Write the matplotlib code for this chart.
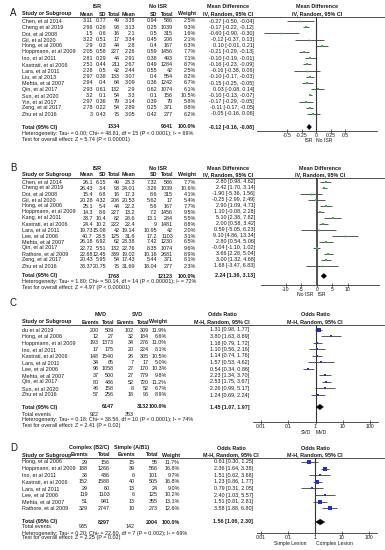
import numpy as np
import matplotlib.pyplot as plt
from matplotlib.lines import Line2D
from matplotlib.patches import Polygon

plt.rcParams['font.family'] = ['Liberation Sans', 'DejaVu Sans']

W, H = 385, 550
FS = 3.9
TXT = '#1a1a1a'
GREEN = '#33b43c'
BLUE = '#2233c8'

# ---- A: ISR vs no ISR, mean difference
a_study = ['Chen, et al 2014', 'Cheng et al 2019', 'Doi, et al 2008', 'Gil, et al 2020',
           'Hong, et al 2006', 'Hoppmann, et al 2009', 'Ino, et al 2011', 'Kastrati, et al 2006',
           'Lara, et al 2011', 'Liu, et al 2013', 'Mehta, et al 2007', 'Qin, et al 2017',
           'Sun, et al 2020', 'Yin, et al 2017', 'Zeng, et al 2017', 'Zhu et al 2016']
a_isr_mean = [3.11, 2.96, 1.5, 3.22, 2.9, 2.05, 2.81, 2.51, 2.28, 2.97, 2.94, 2.93, 3.2, 2.97, 2.78, 3]
a_isr_sd = [0.77, 0.26, 0.6, 0.51, 0.3, 0.58, 0.29, 0.44, 0.5, 0.38, 0.4, 0.61, 0.1, 0.36, 0.22, 0.43]
a_isr_n = [49, 93, 16, 17, 44, 227, 44, 211, 42, 133, 64, 132, 54, 79, 54, 75]
a_no_mean = [3.38, 3.13, 2.1, 3.34, 2.8, 2.26, 2.91, 2.67, 2.44, 3.07, 3.09, 2.9, 3.3, 3.14, 2.89, 3.05]
a_no_sd = [0.94, 0.25, 0.5, 0.45, 0.4, 0.59, 0.38, 0.49, 0.55, 0.4, 0.36, 0.62, 0.1, 0.39, 0.25, 0.42]
a_no_n = [586, 1039, 315, 206, 167, 1456, 493, 1284, 42, 554, 1242, 1074, 156, 79, 371, 277]
a_weight = [2.5, 9.3, 1.6, 2.1, 6.3, 7.7, 7.1, 8.7, 2.5, 8.2, 6.7, 6.1, 10.5, 5.8, 8.8, 6.2]
a_md = [-0.27, -0.17, -0.60, -0.12, 0.10, -0.21, -0.10, -0.16, -0.16, -0.10, -0.15, 0.03, -0.10, -0.17, -0.11, -0.05]
a_lo = [-0.50, -0.22, -0.90, -0.37, -0.01, -0.29, -0.19, -0.23, -0.38, -0.17, -0.25, -0.08, -0.13, -0.29, -0.17, -0.16]
a_hi = [-0.04, -0.12, -0.30, 0.13, 0.21, -0.13, -0.01, -0.09, 0.06, -0.03, -0.05, 0.14, -0.07, -0.05, -0.05, 0.06]
a_total = [1334, 9341]
a_pooled = [-0.12, -0.16, -0.08]
a_het = 'Heterogeneity: Tau² = 0.00; Chi² = 48.81, df = 15 (P < 0.0001); I² = 69%'
a_test = 'Test for overall effect: Z = 5.74 (P < 0.00001)'

# ---- B: ISR vs no ISR, mean difference
b_study = ['Chen, et al 2014', 'Cheng et al 2019', 'Doi, et al 2008', 'Gil, et al 2020',
           'Hong, et al 2006', 'Hoppmann, et al 2009', 'Kang, et al 2011', 'Kastrati, et al 2006',
           'Lara, et al 2011', 'Lee, et al 2006', 'Mehta, et al 2007', 'Qin, et al 2017',
           'Rathore, et al 2009', 'Zeng, et al 2017', 'Zhu et al 2016']
b_isr_mean = [26.1, 26.43, 15.4, 20.28, 25.1, 14.3, 33.7, 24.4, 19.73, 40.7, 26.18, 22.72, 22.68, 20.43, 33.37]
b_isr_sd = [6.15, 3.4, 6.8, 4.32, 5.4, 8.6, 10.4, 10.2, 15.08, 23.5, 6.92, 5.51, 12.45, 5.95, 20.75]
b_isr_n = [49, 93, 16, 206, 44, 227, 82, 222, 42, 125, 62, 132, 339, 54, 75]
b_no_mean = [23.3, 24.01, 17.3, 20.53, 22.2, 13.2, 28.6, 22.4, 19.14, 31.6, 23.38, 22.76, 19.02, 17.43, 31.69]
b_no_sd = [7.32, 3.26, 8.6, 5.62, 5.6, 7.2, 13.1, 9, 10.95, 17.2, 7.42, 8.35, 10.16, 5.44, 18.04]
b_no_n = [586, 1039, 315, 17, 167, 1456, 284, 1481, 42, 1103, 1230, 1074, 2681, 371, 277]
b_weight = [7.7, 10.6, 4.1, 5.4, 7.7, 9.5, 5.5, 8.8, 2.0, 3.1, 6.5, 9.6, 8.9, 8.1, 2.3]
b_md = [2.80, 2.42, -1.90, -0.25, 2.90, 1.10, 5.10, 2.00, 0.59, 9.10, 2.80, -0.04, 3.66, 3.00, 1.68]
b_lo = [0.98, 1.70, -5.36, -2.99, 1.09, -0.08, 2.38, 0.58, -5.05, 4.86, 0.54, -1.10, 2.28, 1.32, -3.47]
b_hi = [4.62, 3.14, 1.56, 2.49, 4.71, 2.28, 7.82, 3.42, 6.23, 13.34, 5.06, 1.02, 5.04, 4.68, 6.83]
b_total = [1768, 12123]
b_pooled = [2.24, 1.36, 3.13]
b_het = 'Heterogeneity: Tau² = 1.80; Chi² = 50.14, df = 14 (P < 0.00001); I² = 72%'
b_test = 'Test for overall effect: Z = 4.97 (P < 0.00001)'

# ---- C: MVD vs SVD, odds ratio
c_study = ['du et al 2019', 'Hong, et al 2006', 'Hoppmann, et al 2009', 'Ino, et al 2011',
           'Kastrati, et al 2006', 'Lara, et al 2011', 'Lee, et al 2006', 'Mehta, et al 2007',
           'Qin, et al 2017', 'Sun, et al 2020', 'Zhu et al 2016']
c_ev1 = [200, 12, 193, 17, 148, 34, 98, 37, 80, 46, 57]
c_n1 = [509, 27, 1373, 175, 1540, 65, 1058, 500, 486, 158, 256]
c_ev2 = [102, 32, 34, 20, 26, 7, 27, 27, 52, 8, 18]
c_n2 = [309, 184, 276, 224, 305, 17, 170, 779, 720, 52, 96]
c_weight = [11.9, 6.6, 11.0, 8.1, 10.5, 5.0, 10.3, 9.8, 11.2, 6.7, 8.9]
c_or = [1.31, 3.80, 1.16, 1.10, 1.14, 1.57, 0.54, 2.23, 2.53, 2.26, 1.24]
c_lo = [0.98, 1.63, 0.79, 0.56, 0.74, 0.53, 0.34, 1.34, 1.75, 0.99, 0.69]
c_hi = [1.77, 8.89, 1.72, 2.16, 1.76, 4.62, 0.86, 3.70, 3.67, 5.17, 2.24]
c_total = [6147, 3132]
c_events = [922, 353]
c_pooled = [1.45, 1.07, 1.97]
c_het = 'Heterogeneity: Tau² = 0.18; Chi² = 38.56, df = 10 (P < 0.0001); I² = 74%'
c_test = 'Test for overall effect: Z = 2.41 (P = 0.02)'

# ---- D: complex vs simple lesion, odds ratio
d_study = ['Hong, et al 2006', 'Hoppmann, et al 2009', 'Ino, et al 2011', 'Kastrati, et al 2006',
           'Lara, et al 2011', 'Lee, et al 2006', 'Mehta, et al 2007', 'Rathore, et al 2009']
d_ev1 = [29, 188, 38, 152, 29, 119, 51, 329]
d_n1 = [156, 1266, 436, 1588, 60, 1103, 941, 2747]
d_ev2 = [15, 39, 6, 40, 13, 6, 13, 10]
d_n2 = [55, 566, 101, 505, 24, 125, 355, 273]
d_weight = [11.7, 16.8, 9.7, 16.8, 9.0, 10.2, 13.1, 12.6]
d_or = [0.61, 2.36, 1.51, 1.23, 0.79, 2.40, 1.51, 3.58]
d_lo = [0.30, 1.64, 0.62, 0.86, 0.31, 1.03, 0.81, 1.88]
d_hi = [1.25, 3.38, 3.68, 1.77, 2.05, 5.57, 2.81, 6.80]
d_total = [8297, 2004]
d_events = [935, 142]
d_pooled = [1.56, 1.06, 2.30]
d_het = 'Heterogeneity: Tau² = 0.20; Chi² = 22.80, df = 7 (P = 0.002); I² = 69%'
d_test = 'Test for overall effect: Z = 2.25 (P = 0.02)'

fig = plt.figure(figsize=(W / 100, H / 100), dpi=100)


def put(x, y, s, ha='left', bold=False, size=FS):
    fig.text(x / W, 1 - y / H, s, ha=ha, va='center', fontsize=size,
             fontweight='bold' if bold else 'normal', color=TXT)


def hline(x0, x1, y, lw=0.6):
    fig.add_artist(Line2D([x0 / W, x1 / W], [1 - y / H, 1 - y / H], color='#333333', lw=lw))


def g(v):
    return '{:g}'.format(v)


def ci(e, l, h):
    return '{:.2f} [{:.2f}, {:.2f}]'.format(e, l, h)


def panel(P):
    put(10, P['y_letter'], P['letter'], size=7)
    for x, s in P['groups']:
        put(x, P['yg'], s, ha='center', bold=True)
    put(P['eff_c'], P['yg'], P['effect'], ha='center', bold=True)
    put(P['plot_c'], P['yg'], P['effect'], ha='center', bold=True)
    put(22, P['yh'], 'Study or Subgroup', bold=True)
    for x, s in zip(P['colx'], P['heads']):
        put(x, P['yh'], s, ha='right', bold=True)
    put(P['eff_c'], P['yh'], P['method'], ha='center', bold=True)
    put(P['plot_c'], P['yh'], P['method'], ha='center', bold=True)
    hline(22, 385, P['yl'])

    y0, dy = P['row0'], P['dy']
    n = len(P['study'])
    for i in range(n):
        y = y0 + i * dy
        put(22, y, P['study'][i])
        for x, col in zip(P['colx'], P['cols']):
            put(x, y, col[i], ha='right')
        put(P['eff_r'], y, ci(P['est'][i], P['lo'][i], P['hi'][i]), ha='right')

    yt = P['ytot']
    put(22, yt, 'Total (95% CI)', bold=True)
    for x, s in P['tot_cells']:
        put(x, yt, s, ha='right', bold=True)
    put(P['eff_r'], yt, ci(*P['pooled']), ha='right', bold=True)
    if P.get('events'):
        put(22, P['yev'], 'Total events')
        for x, s in P['events']:
            put(x, P['yev'], s, ha='right')
    put(22, P['yhet'], P['het'])
    put(22, P['ytest'], P['test'])

    # forest plot
    xl, xr = P['ax_px']
    ax = fig.add_axes([xl / W, 1 - P['yaxis'] / H, (xr - xl) / W, (P['yaxis'] - P['yl']) / H])
    ax.set_xscale(P['scale'])
    ax.set_xlim(P['xlim'])
    ax.set_ylim((P['yaxis'] - y0) / dy, (P['yl'] - y0) / dy)
    k = np.arange(n)
    ax.hlines(k, P['lo'], P['hi'], color='#3a3a3a', lw=0.6, zorder=2)
    ms = 0.9 + 0.11 * np.array(P['w'])
    for kk, e, m in zip(k, P['est'], ms):
        ax.plot(e, kk, 's', ms=m, color=P['mc'], mec=P['mc'], mew=0, zorder=3)
    kt = (yt - y0) / dy
    e, l, h = P['pooled']
    hh = 0.42
    ax.add_patch(Polygon([[l, kt], [e, kt - hh], [h, kt], [e, kt + hh]], closed=True,
                         fc='black', ec='black', lw=0.3, zorder=3))
    ax.axvline(P['zero'], color='#333333', lw=P['zlw'], zorder=1)
    for s in ['top', 'left', 'right']:
        ax.spines[s].set_visible(False)
    ax.spines['bottom'].set_linewidth(0.6)
    ax.spines['bottom'].set_color('#333333')
    ax.set_yticks([])
    ax.set_xticks(P['ticks'])
    ax.set_xticklabels(P['ticklabels'])
    ax.minorticks_off()
    ax.tick_params(axis='x', direction='inout', length=2.5, width=0.5, labelsize=3.7,
                   pad=0.4, colors='#333333', labelcolor=TXT)
    ax.patch.set_alpha(0)
    zl = P['zero_px']
    ys = P['yaxis'] + 10
    put(zl + P['side_off'][0], ys, P['sides'][0], ha='right', size=3.7)
    put(zl + P['side_off'][1], ys, P['sides'][1], ha='left', size=3.7)


cont_x = [93, 106, 120, 135, 157, 173, 196]
cont_heads = ['Mean', 'SD', 'Total', 'Mean', 'SD', 'Total', 'Weight']

panel(dict(
    letter='A', y_letter=13, yg=6, yh=14, yl=17, row0=21, dy=6.2, ytot=127,
    yhet=133, ytest=139, yaxis=131,
    groups=[(97, 'ISR'), (158, 'No ISR')], effect='Mean Difference',
    method='IV, Random, 95% CI', eff_c=228, eff_r=254, plot_c=317,
    colx=cont_x, heads=cont_heads, study=a_study,
    cols=[[g(v) for v in a_isr_mean], [g(v) for v in a_isr_sd], [str(v) for v in a_isr_n],
          [g(v) for v in a_no_mean], [g(v) for v in a_no_sd], [str(v) for v in a_no_n],
          ['{:.1f}%'.format(v) for v in a_weight]],
    est=a_md, lo=a_lo, hi=a_hi, w=a_weight, pooled=a_pooled,
    tot_cells=[(120, str(a_total[0])), (173, str(a_total[1])), (196, '100.0%')],
    het=a_het, test=a_test,
    ax_px=(257, 377), scale='linear', xlim=(-1.02, 1.05), zero=0, zero_px=316, zlw=0.8,
    ticks=[-0.5, -0.25, 0, 0.25, 0.5], ticklabels=['-0.5', '-0.25', '0', '0.25', '0.5'],
    mc=GREEN, sides=['ISR', 'No ISR'], side_off=(-3, 0)))

panel(dict(
    letter='B', y_letter=168, yg=168, yh=175, yl=178, row0=182, dy=6.0, ytot=276,
    yhet=282, ytest=287, yaxis=285,
    groups=[(97, 'ISR'), (158, 'No ISR')], effect='Mean Difference',
    method='IV, Random, 95% CI', eff_c=228, eff_r=255, plot_c=320,
    colx=cont_x, heads=cont_heads, study=b_study,
    cols=[[g(v) for v in b_isr_mean], [g(v) for v in b_isr_sd], [str(v) for v in b_isr_n],
          [g(v) for v in b_no_mean], [g(v) for v in b_no_sd], [str(v) for v in b_no_n],
          ['{:.1f}%'.format(v) for v in b_weight]],
    est=b_md, lo=b_lo, hi=b_hi, w=b_weight, pooled=b_pooled,
    tot_cells=[(120, str(b_total[0])), (173, str(b_total[1])), (196, '100.0%')],
    het=b_het, test=b_test,
    ax_px=(261, 379), scale='linear', xlim=(-18, 20), zero=0, zero_px=317, zlw=1.2,
    ticks=[-10, -5, 0, 5, 10], ticklabels=['-10', '-5', '0', '5', '10'],
    mc=GREEN, sides=['No ISR', 'ISR'], side_off=(-4, 0)))

c_x = [99, 114, 134, 149, 167]
panel(dict(
    letter='C', y_letter=303, yg=315, yh=322, yl=325, row0=330, dy=6.5, ytot=407,
    yev=414, yhet=420, ytest=426, yaxis=422,
    groups=[(101, 'MVD'), (137, 'SVD')], effect='Odds Ratio',
    method='M-H, Random, 95% CI', eff_c=222, eff_r=249, plot_c=315,
    colx=c_x, heads=['Events', 'Total', 'Events', 'Total', 'Weight'], study=c_study,
    cols=[[str(v) for v in c_ev1], [str(v) for v in c_n1], [str(v) for v in c_ev2],
          [str(v) for v in c_n2], ['{:.1f}%'.format(v) for v in c_weight]],
    est=c_or, lo=c_lo, hi=c_hi, w=c_weight, pooled=c_pooled,
    tot_cells=[(114, str(c_total[0])), (149, str(c_total[1])), (167, '100.0%')],
    events=[(99, str(c_events[0])), (134, str(c_events[1]))],
    het=c_het, test=c_test,
    ax_px=(253, 378), scale='log', xlim=(0.005, 200), zero=1, zero_px=315, zlw=0.8,
    ticks=[0.01, 0.1, 1, 10, 100], ticklabels=['0.01', '0.1', '1', '10', '100'],
    mc=BLUE, sides=['SVD', 'MVD'], side_off=(-4, 1)))

d_x = [88, 110, 135, 158, 180]
panel(dict(
    letter='D', y_letter=448, yg=448, yh=455, yl=457.5, row0=462, dy=6.6, ytot=522,
    yev=527, yhet=533, ytest=538, yaxis=533,
    groups=[(89, 'Complex (B2/C)'), (132, 'Simple (A/B1)')], effect='Odds Ratio',
    method='M-H, Random, 95% CI', eff_c=231, eff_r=253, plot_c=315,
    colx=d_x, heads=['Events', 'Total', 'Events', 'Total', 'Weight'], study=d_study,
    cols=[[str(v) for v in d_ev1], [str(v) for v in d_n1], [str(v) for v in d_ev2],
          [str(v) for v in d_n2], ['{:.1f}%'.format(v) for v in d_weight]],
    est=d_or, lo=d_lo, hi=d_hi, w=d_weight, pooled=d_pooled,
    tot_cells=[(110, str(d_total[0])), (158, str(d_total[1])), (180, '100.0%')],
    events=[(88, str(d_events[0])), (135, str(d_events[1]))],
    het=d_het, test=d_test,
    ax_px=(257, 377), scale='log', xlim=(0.007, 200), zero=1, zero_px=315, zlw=0.8,
    ticks=[0.01, 0.1, 1, 10, 100], ticklabels=['0.01', '0.1', '1', '10', '100'],
    mc=BLUE, sides=['Simple Lesion', 'Complex Lesion'], side_off=(-8, 1)))

fig.savefig('out.png', dpi=100)
